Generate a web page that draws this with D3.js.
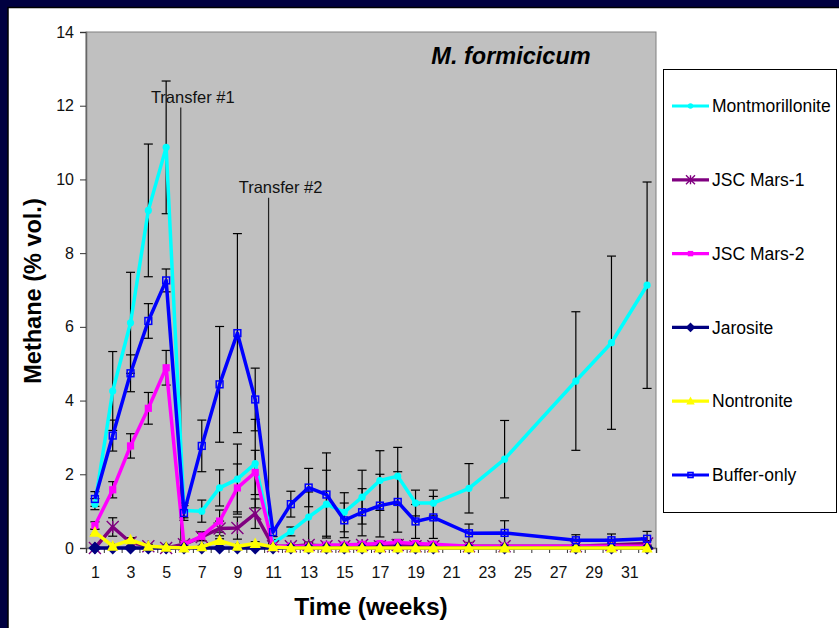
<!DOCTYPE html>
<html><head><meta charset="utf-8">
<script src="https://cdn.jsdelivr.net/npm/d3@7"></script>
<style>
html,body{margin:0;padding:0;background:#000040;}
svg{display:block;}
text{font-family:"Liberation Sans",Arial,sans-serif;}
</style></head>
<body>
<svg id="chart" width="839" height="628"></svg>
<script>
// ---- data ----
const weeks = [1,2,3,4,5,6,7,8,9,10,11,12,13,14,15,16,17,18,19,20,22,24,28,30,32];
const montmorillonite = [1.19,4.26,6.11,9.16,10.87,1.02,1.0,1.63,1.87,2.29,0.13,0.45,0.84,1.19,0.97,1.38,1.83,1.95,1.22,1.22,1.62,2.41,4.53,5.57,7.13];
const montmorilloniteErr = [0.15,1.07,1.37,1.8,1.8,0.2,0.3,0.49,0.95,1.2,0.1,0.12,0.68,0.92,0.53,0.73,0.81,0.78,0.35,0.35,0.67,1.05,1.88,2.35,2.8];
const jscMars1 = [0.0,0.57,0.15,0.05,0.0,0.1,0.3,0.53,0.54,0.93,0.05,0.05,0.08,0.05,0.05,0.08,0.05,0.08,0.05,0.05,0.05,0.05,0.05,0.08,0.12];
const jscMars1Err = [0.02,0.25,0.1,0.05,0.02,0.08,0.1,0.2,0.3,0.4,0.03,0.03,0.05,0.03,0.03,0.05,0.03,0.05,0.03,0.03,0.03,0.03,0.03,0.05,0.08];
const jscMars2 = [0.61,1.58,2.77,3.79,4.89,0.1,0.32,0.73,1.63,2.05,0.05,0.05,0.05,0.08,0.08,0.1,0.12,0.15,0.12,0.1,0.05,0.05,0.05,0.05,0.05];
const jscMars2Err = [0.1,0.22,0.33,0.43,0.47,0.05,0.12,0.3,0.65,0.6,0.03,0.03,0.03,0.05,0.05,0.05,0.05,0.08,0.05,0.05,0.03,0.03,0.03,0.03,0.03];
const jarosite = [0,0,0,0,0,0,0,0,0,0,0,0,0,0,0,0,0,0,0,0,0,0,0,0,0];
const nontronite = [0.43,0.05,0.22,0.05,0.02,0.0,0.03,0.2,0.05,0.12,0.03,0,0,0,0,0,0,0,0,0,0,0,0,0,0];
const nontroniteErr = [0.08,0.03,0.06,0.03,0.02,0.0,0.02,0.05,0.03,0.05,0.02,0,0,0,0,0,0,0,0,0,0,0,0,0,0];
const bufferOnly = [1.33,3.05,4.74,6.16,7.26,0.95,2.77,4.44,5.83,4.03,0.43,1.19,1.64,1.45,0.75,0.97,1.15,1.25,0.72,0.83,0.4,0.41,0.21,0.21,0.25];
const bufferOnlyErr = [0.2,0.42,0.5,0.47,0.31,0.2,0.7,1.57,2.7,0.85,0.12,0.35,0.52,1.13,0.47,0.64,0.85,0.82,0.46,0.57,0.25,0.33,0.15,0.17,0.2];
const seriesNames = ["Montmorillonite","JSC Mars-1","JSC Mars-2","Jarosite","Nontronite","Buffer-only"];
const seriesColors = ["#00FFFF","#800080","#FF00FF","#000080","#FFFF00","#0000FF"];
const xTickLabels = [1,3,5,7,9,11,13,15,17,19,21,23,25,27,29,31];
const yTickLabels = [0,2,4,6,8,10,12,14];
const transfers = [{label:"Transfer #1", week:5.82, top:11.95}, {label:"Transfer #2", week:10.75, top:9.5}];
const title = "M. formicicum";
const xTitle = "Time (weeks)";
const yTitle = "Methane (% vol.)";

// ---- layout ----
const svg = d3.select("#chart");
const plot = {l:86, r:656, t:32, b:548};
const x = d3.scaleLinear().domain([0.5,32.5]).range([plot.l, plot.r]);
const y = d3.scaleLinear().domain([0,14]).range([plot.b, plot.t]);

// background panels
svg.append("rect").attr("x",0).attr("y",0).attr("width",839).attr("height",628).attr("fill","#000040");
svg.append("rect").attr("x",8).attr("y",7.5).attr("width",840).attr("height",640).attr("fill","#fff").attr("stroke","#000").attr("stroke-width",1.5);
svg.append("rect").attr("x",plot.l).attr("y",plot.t).attr("width",plot.r-plot.l).attr("height",plot.b-plot.t)
  .attr("fill","#C0C0C0").attr("stroke","#808080").attr("stroke-width",1);

// y axis
const yAxis = d3.axisLeft(y).tickValues(yTickLabels).tickSize(6).tickPadding(6).tickFormat(d3.format("d"));
const gy = svg.append("g").attr("transform",`translate(${plot.l},0)`).call(yAxis);
gy.select(".domain").attr("stroke","#666").attr("stroke-width",1.5);
gy.selectAll(".tick line").attr("stroke","#333");
gy.selectAll(".tick text").attr("font-size",16).attr("fill","#111").attr("font-family","Liberation Sans, Arial, sans-serif");

// x axis: ticks at category boundaries, labels at odd weeks
const boundaries = d3.range(0.5, 33, 1);
const xAxisTicks = d3.axisBottom(x).tickValues(boundaries).tickSize(5).tickFormat("");
const gx = svg.append("g").attr("transform",`translate(0,${plot.b})`).call(xAxisTicks);
gx.select(".domain").attr("stroke","#666").attr("stroke-width",1.5);
gx.selectAll(".tick line").attr("stroke","#333");
const xLabAxis = d3.axisBottom(x).tickValues(xTickLabels).tickSize(0).tickPadding(19).tickFormat(d3.format("d"));
const gx2 = svg.append("g").attr("transform",`translate(0,${plot.b})`).call(xLabAxis);
gx2.select(".domain").remove();
gx2.selectAll(".tick text").attr("font-size",16).attr("fill","#111").attr("font-family","Liberation Sans, Arial, sans-serif");

// transfer annotations
transfers.forEach(t => {
  svg.append("line").attr("x1",x(t.week)).attr("x2",x(t.week)).attr("y1",y(t.top)).attr("y2",y(0))
    .attr("stroke","#222").attr("stroke-width",1.2);
  svg.append("text").attr("x",x(t.week)+12).attr("y",y(t.top)-5).attr("text-anchor","middle")
    .attr("font-size",16.5).attr("fill","#111").text(t.label);
});

// data series
const series = [
  {vals:montmorillonite, err:montmorilloniteErr, marker:"circle"},
  {vals:jscMars1, err:jscMars1Err, marker:"asterisk"},
  {vals:jscMars2, err:jscMars2Err, marker:"fsquare"},
  {vals:jarosite, err:null, marker:"diamond"},
  {vals:nontronite, err:nontroniteErr, marker:"triangle"},
  {vals:bufferOnly, err:bufferOnlyErr, marker:"osquare"}
].map((s,i)=>({...s, name:seriesNames[i], color:seriesColors[i]}));

// error bars first
const gErr = svg.append("g");
series.forEach(s => {
  if(!s.err) return;
  weeks.forEach((w,i) => {
    const e = s.err[i]; if(!e) return;
    const cx = x(w), y1 = y(s.vals[i]+e), y0 = y(Math.max(0,s.vals[i]-e));
    gErr.append("line").attr("x1",cx).attr("x2",cx).attr("y1",y1).attr("y2",y0).attr("stroke","#000").attr("stroke-width",1.2);
    [y1,y0].forEach(yy => gErr.append("line").attr("x1",cx-4.5).attr("x2",cx+4.5).attr("y1",yy).attr("y2",yy).attr("stroke","#000").attr("stroke-width",1.2));
  });
});

function drawMarker(g, type, cx, cy, color, scale){
  const k = scale||1;
  if(type==="circle"){
    g.append("circle").attr("cx",cx).attr("cy",cy).attr("r",3.6*k).attr("fill",color);
  } else if(type==="fsquare"){
    g.append("rect").attr("x",cx-3.6*k).attr("y",cy-3.6*k).attr("width",7.2*k).attr("height",7.2*k).attr("fill",color);
  } else if(type==="osquare"){
    g.append("rect").attr("x",cx-3.4*k).attr("y",cy-3.4*k).attr("width",6.8*k).attr("height",6.8*k).attr("fill","none").attr("stroke",color).attr("stroke-width",1.5);
  } else if(type==="diamond"){
    const r=6.5*k;
    g.append("path").attr("d",`M${cx},${cy-r}L${cx+r},${cy}L${cx},${cy+r}L${cx-r},${cy}Z`).attr("fill",color);
  } else if(type==="triangle"){
    const r=5.6*k;
    g.append("path").attr("d",`M${cx},${cy-r*1.1}L${cx+r},${cy+r*0.8}L${cx-r},${cy+r*0.8}Z`).attr("fill",color);
  } else if(type==="asterisk"){
    const r=6*k;
    g.append("path").attr("d",`M${cx-r},${cy-r}L${cx+r},${cy+r}M${cx-r},${cy+r}L${cx+r},${cy-r}M${cx},${cy-r}L${cx},${cy+r}`)
      .attr("stroke",color).attr("stroke-width",1.4).attr("fill","none");
  }
}

const line = d3.line().x(d=>x(d[0])).y(d=>y(d[1]));
series.forEach(s => {
  const g = svg.append("g");
  g.append("path").attr("d", line(weeks.map((w,i)=>[w,s.vals[i]])))
    .attr("fill","none").attr("stroke",s.color).attr("stroke-width",3.5).attr("stroke-linejoin","round");
  weeks.forEach((w,i)=> drawMarker(g, s.marker, x(w), y(s.vals[i]), s.color));
});

// titles
svg.append("text").attr("x",511).attr("y",64).attr("text-anchor","middle").attr("font-size",23.5)
  .attr("font-weight","bold").attr("font-style","italic").attr("fill","#000").text(title);
svg.append("text").attr("x",371).attr("y",615).attr("text-anchor","middle").attr("font-size",24.5)
  .attr("font-weight","bold").attr("fill","#000").text(xTitle);
svg.append("text").attr("transform","translate(41,291) rotate(-90)").attr("text-anchor","middle").attr("font-size",23.5)
  .attr("font-weight","bold").attr("fill","#000").text(yTitle);

// legend
const lg = svg.append("g");
lg.append("rect").attr("x",663.5).attr("y",69.5).attr("width",173).attr("height",443).attr("fill","#fff").attr("stroke","#000").attr("stroke-width",1);
const legendY = d3.scaleLinear().domain([0,5]).range([106,475]);
series.forEach((s,i) => {
  const ly = legendY(i);
  lg.append("line").attr("x1",672).attr("x2",709).attr("y1",ly).attr("y2",ly).attr("stroke",s.color).attr("stroke-width",3.2);
  drawMarker(lg, s.marker, 690.5, ly, s.color, 0.75);
  lg.append("text").attr("x",712).attr("y",ly).attr("dy","0.35em").attr("font-size",17.5).attr("fill","#000").text(s.name);
});
</script>
</body></html>
